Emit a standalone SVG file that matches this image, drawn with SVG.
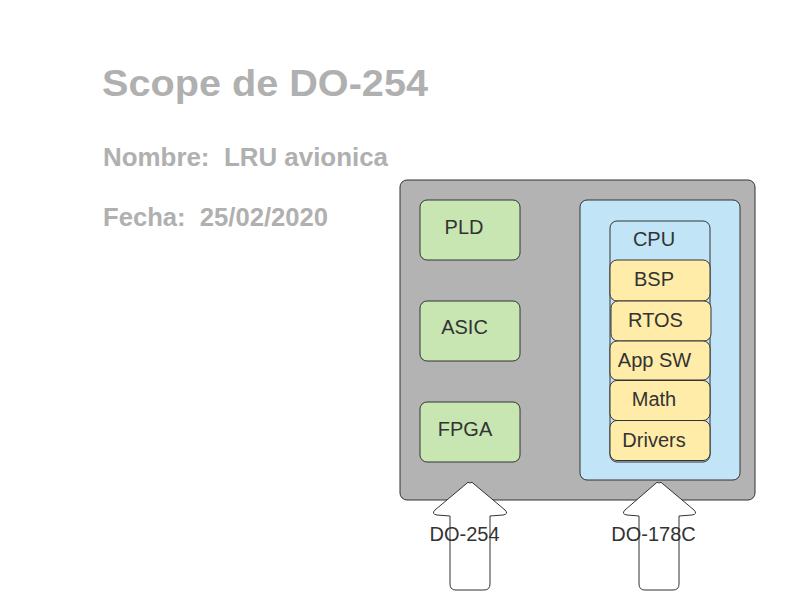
<svg xmlns="http://www.w3.org/2000/svg" width="809" height="616" viewBox="0 0 809 616">
<style>
.hdr{font-family:"Liberation Sans",Arial,sans-serif;font-weight:bold;fill:#b0b0b0}
.lbl{font-family:"Liberation Sans",Arial,sans-serif;font-size:20px;fill:#333333;text-anchor:middle}
.grn{fill:#c7e6b1;stroke:#333333;stroke-width:1}
.yel{fill:#ffeca9;stroke:#333333;stroke-width:1}
.blu{fill:#c1e4f7;stroke:#333333;stroke-width:1}
.arr{fill:#ffffff;stroke:#333333;stroke-width:1;stroke-linejoin:round}
</style>
<rect width="809" height="616" fill="#ffffff"/>
<g id="title">
<text class="hdr" x="102" y="96" font-size="36" textLength="326" lengthAdjust="spacingAndGlyphs">Scope de DO-254</text>
<text class="hdr" x="103" y="166" font-size="25" textLength="285" lengthAdjust="spacingAndGlyphs" xml:space="preserve">Nombre:  LRU avionica</text>
<text class="hdr" x="103" y="226" font-size="25" textLength="225" lengthAdjust="spacingAndGlyphs" xml:space="preserve">Fecha:  25/02/2020</text>
</g>
<g id="lru">
<rect x="400" y="180" width="355" height="320" rx="7" fill="#b3b3b3" stroke="#333333"/>
</g>
<g id="pld"><rect class="grn" x="420" y="200" width="100" height="60" rx="7"/><text class="lbl" x="464" y="234">PLD</text></g>
<g id="asic"><rect class="grn" x="420" y="301" width="100" height="60" rx="7"/><text class="lbl" x="464.5" y="334">ASIC</text></g>
<g id="fpga"><rect class="grn" x="420" y="402" width="100" height="60" rx="7"/><text class="lbl" x="465" y="436">FPGA</text></g>
<g id="sw">
<rect class="blu" x="580" y="200" width="160" height="280" rx="7"/>
</g>
<g id="cpu"><rect class="blu" x="610" y="221" width="100" height="241" rx="7"/><text class="lbl" x="654" y="246">CPU</text></g>
<g id="bsp"><rect class="yel" x="610" y="260" width="100" height="41" rx="7"/><text class="lbl" x="654" y="286">BSP</text></g>
<g id="rtos"><rect class="yel" x="611" y="301" width="100" height="40" rx="7"/><text class="lbl" x="655.5" y="327">RTOS</text></g>
<g id="appsw"><rect class="yel" x="610" y="341" width="100" height="39" rx="7"/><text class="lbl" x="654.5" y="367">App SW</text></g>
<g id="math"><rect class="yel" x="610" y="380.5" width="100" height="40" rx="7"/><text class="lbl" x="654" y="406">Math</text></g>
<g id="drivers"><rect class="yel" x="610" y="420.5" width="100" height="40" rx="7"/><text class="lbl" x="654" y="447">Drivers</text></g>
<g id="connectors">
<path class="arr" d="M470,483 Q468,481 466,484 L435,510 Q431,514 437,515 L450,516 L450,584 Q450,590 456,590 L484,590 Q490,590 490,584 L490,516 L503,515 Q509,514 505,510 L474,484 Q472,481 470,483 Z"/>
<path class="arr" d="M659,483 Q657,481 655,484 L625,510 Q621,514 627,515 L639,516 L639,584 Q639,590 645,590 L673,590 Q679,590 679,584 L679,516 L692,515 Q698,514 694,510 L663,484 Q661,481 659,483 Z"/>
</g>
<g id="labels">
<text class="lbl" x="464.5" y="541">DO-254</text>
<text class="lbl" x="653.5" y="541">DO-178C</text>
</g>
</svg>
